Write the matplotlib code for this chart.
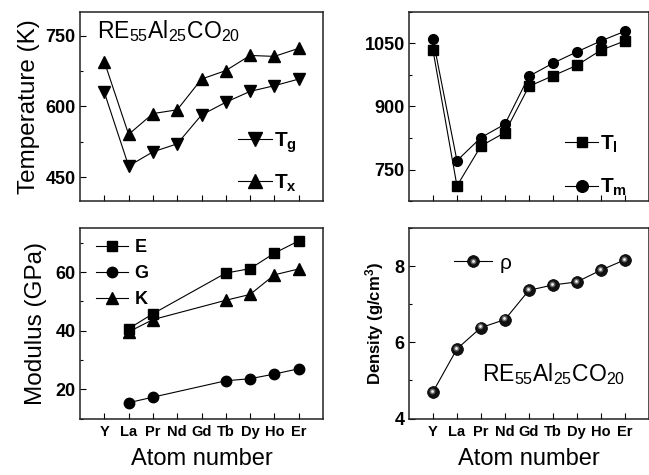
import numpy as np
import matplotlib
matplotlib.use("Agg")
from matplotlib import pyplot as plt
from matplotlib import transforms
from matplotlib.ticker import MultipleLocator

plt.rcParams['font.family'] = ['Liberation Sans', 'DejaVu Sans']
plt.rcParams['mathtext.fontset'] = 'custom'
plt.rcParams['mathtext.rm'] = 'Liberation Sans'
plt.rcParams['mathtext.it'] = 'Liberation Sans:italic'
plt.rcParams['mathtext.bf'] = 'Liberation Sans:bold'

elements = ['Y', 'La', 'Pr', 'Nd', 'Gd', 'Tb', 'Dy', 'Ho', 'Er']

# temperatures (K)
tg = [630, 474, 504, 521, 582, 609, 632, 644, 658]
tx = [695, 541, 585, 593, 658, 676, 708, 706, 723]
tl = [1034, 711, 806, 838, 948, 973, 998, 1034, 1056]
tm = [1060, 771, 826, 858, 972, 1003, 1030, 1056, 1079]

# moduli (GPa), only measured for some alloys
mod_elements = ['La', 'Pr', 'Tb', 'Dy', 'Ho', 'Er']
mod_e = [40.7, 45.8, 59.7, 61.2, 66.5, 70.7]
mod_g = [15.4, 17.3, 22.9, 23.6, 25.2, 27.0]
mod_k = [39.6, 43.8, 50.4, 52.4, 59.1, 61.1]

# density (g/cm3)
density = [4.70, 5.83, 6.39, 6.60, 7.37, 7.51, 7.59, 7.90, 8.17]

x = np.arange(len(elements))
xm = np.array([elements.index(e) for e in mod_elements])

fig = plt.figure(figsize=(6.49, 4.75), dpi=100)
lw = 0.8
ax_tl = fig.add_axes([0.1233, 0.5768, 0.3744, 0.398])
ax_tr = fig.add_axes([0.6302, 0.5768, 0.3695, 0.398])
ax_bl = fig.add_axes([0.1233, 0.1189, 0.3744, 0.4005])
ax_br = fig.add_axes([0.6302, 0.1189, 0.3695, 0.4005])


def style_axes(ax, yticks, minor, show_xlabels):
    ax.set_xlim(-1, 9)
    ax.set_xticks(x)
    if show_xlabels:
        ax.set_xticklabels(elements, fontsize=10.5, fontweight='bold')
        ax.set_xlabel('Atom number', fontsize=17, labelpad=6)
    else:
        ax.set_xticklabels([])
    ax.set_yticks(yticks)
    ax.set_yticklabels([str(t) for t in yticks], fontsize=13, fontweight='bold')
    ax.yaxis.set_minor_locator(MultipleLocator(minor))
    ax.tick_params(direction='in', length=4, width=0.8, pad=3)
    ax.tick_params(axis='x', pad=5)
    ax.tick_params(which='minor', direction='in', length=2.5, width=0.8)
    for sp in ax.spines.values():
        sp.set_linewidth(1.1)
        sp.set_color('#222222')


# temperature Tg / Tx
ax_tl.plot(x, tg, 'k-', lw=lw, marker='v', ms=8, label=r'$\mathbf{T_g}$')
ax_tl.plot(x, tx, 'k-', lw=lw, marker='^', ms=8, label=r'$\mathbf{T_x}$')
ax_tl.set_ylim(400, 800)
ax_tl.set_ylabel('Temperature (K)', fontsize=17.5, labelpad=4)
ax_tl.text(0.07, 0.965, r'RE$_{55}$Al$_{25}$CO$_{20}$', transform=ax_tl.transAxes,
           fontsize=16.5, va='top', ha='left')
ax_tl.legend(loc='lower right', frameon=False, fontsize=15, labelspacing=0.85,
             handlelength=1.6, handletextpad=0.1, borderaxespad=0.05,
             markerscale=1.2, bbox_to_anchor=(0.93, -0.01))
style_axes(ax_tl, [450, 600, 750], 75, False)

# temperature Tl / Tm
ax_tr.plot(x, tl, 'k-', lw=lw, marker='s', ms=6.5, label=r'$\mathbf{T_l}$')
ax_tr.plot(x, tm, 'k-', lw=lw, marker='o', ms=7, label=r'$\mathbf{T_m}$')
ax_tr.set_ylim(675, 1125)
ax_tr.legend(loc='lower right', frameon=False, fontsize=15, labelspacing=1.05,
             handlelength=1.6, handletextpad=0.1, borderaxespad=0.05,
             markerscale=1.2, bbox_to_anchor=(0.95, -0.035))
style_axes(ax_tr, [750, 900, 1050], 75, False)

# moduli
ax_bl.plot(xm, mod_e, 'k-', lw=lw, marker='s', ms=7, label=r'$\mathbf{E}$')
ax_bl.plot(xm, mod_g, 'k-', lw=lw, marker='o', ms=7.5, label=r'$\mathbf{G}$')
ax_bl.plot(xm, mod_k, 'k-', lw=lw, marker='^', ms=8, label=r'$\mathbf{K}$')
ax_bl.set_ylim(10, 75)
ax_bl.set_ylabel('Modulus (GPa)', fontsize=17.5, labelpad=6)
ax_bl.legend(loc='upper left', frameon=False, fontsize=13, labelspacing=0.5,
             handlelength=1.8, handletextpad=0.3, borderaxespad=0.2,
             bbox_to_anchor=(0.02, 1.0))
style_axes(ax_bl, [20, 40, 60], 10, True)

# density with shaded ball markers
ball, = ax_br.plot(x, density, 'k-', lw=lw, marker='o', ms=8.5,
                   mfc='#111111', mec='#000000', mew=0.5)
shift = transforms.ScaledTranslation(-1.3 / 100, 1.3 / 100, fig.dpi_scale_trans)
ax_br.plot(x, density, ls='none', marker='o', ms=4.2, mfc='#666666',
           mec='none', transform=ax_br.transData + shift)
ax_br.plot(x, density, ls='none', marker='o', ms=2.0, mfc='#f0f0f0',
           mec='none', transform=ax_br.transData + shift)
glow, = ax_br.plot([], [], ls='none', marker='o', ms=4.2, mfc='#666666', mec='none')
hl, = ax_br.plot([], [], ls='none', marker='o', ms=2.0, mfc='#f0f0f0', mec='none')
ax_br.set_ylim(4, 9)
ax_br.set_ylabel(r'Density (g/cm$^\mathbf{3}$)', fontsize=12, fontweight='bold',
                 labelpad=6)
ax_br.legend([(ball, glow, hl)], ['ρ'], loc='upper left', frameon=False,
             fontsize=15, handlelength=1.8, handletextpad=0.4,
             bbox_to_anchor=(0.11, 0.965))
ax_br.text(0.9, 0.165, r'RE$_{55}$Al$_{25}$CO$_{20}$', transform=ax_br.transAxes,
           fontsize=16.5, va='bottom', ha='right')
style_axes(ax_br, [4, 6, 8], 1, True)

fig.savefig('out.png', dpi=100)
